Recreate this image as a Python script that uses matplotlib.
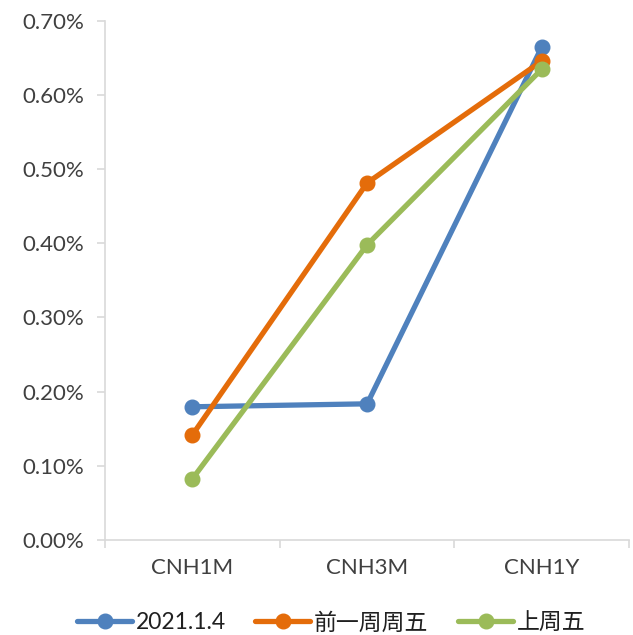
import matplotlib.pyplot as plt
import matplotlib.ticker as mticker

plt.rcParams['font.family'] = ['Lato', 'Noto Sans CJK SC', 'DejaVu Sans']
plt.rcParams['font.weight'] = 'normal'

categories = ['CNH1M', 'CNH3M', 'CNH1Y']
series_names = ['2021.1.4', '前一周周五', '上周五']
s_today = [0.1794, 0.1834, 0.665]
s_prev_fri = [0.1416, 0.4815, 0.646]
s_last_fri = [0.0823, 0.398, 0.635]
colors = ['#4F81BD', '#E46C0A', '#9BBB59']

fig = plt.figure(figsize=(6.33, 6.35), dpi=100)
ax = fig.add_axes([0.166, 0.150, 0.828, 0.817])

x = range(len(categories))
for vals, name, c in zip([s_today, s_prev_fri, s_last_fri], series_names, colors):
    ax.plot(x, vals, color=c, lw=3.8, marker='o', ms=10.5, label=name,
            solid_capstyle='round')

ax.set_xlim(-0.5, 2.5)
ax.set_ylim(0, 0.70)
ax.yaxis.set_major_locator(mticker.MultipleLocator(0.1))
ax.yaxis.set_major_formatter(mticker.FuncFormatter(lambda v, p: '%.2f%%' % v))
ax.set_xticks([-0.5, 0.5, 1.5, 2.5])
ax.set_xticklabels([])
ax.set_xticks(list(x), minor=True)
ax.set_xticklabels(categories, minor=True)
ax.tick_params(axis='x', which='minor', length=0, pad=13, labelsize=16, labelcolor='#404040')
ax.tick_params(axis='x', which='major', length=6, color='#D9D9D9', width=1.2)
ax.tick_params(axis='y', length=6, color='#D9D9D9', width=1.2, labelsize=16,
               labelcolor='#404040', pad=9)

for side in ['top', 'right']:
    ax.spines[side].set_visible(False)
for side in ['left', 'bottom']:
    ax.spines[side].set_color('#D9D9D9')
    ax.spines[side].set_linewidth(1.2)

leg = fig.legend(loc='lower center', bbox_to_anchor=(0.523, -0.03), ncol=3, frameon=False,
                 prop={'family': ['Lato', 'Noto Sans CJK SC'], 'size': 16.5},
                 handlelength=2.4, columnspacing=1.3, handletextpad=0.15)
for t in leg.get_texts():
    t.set_color('#202020')

fig.savefig('out.png', dpi=100)
